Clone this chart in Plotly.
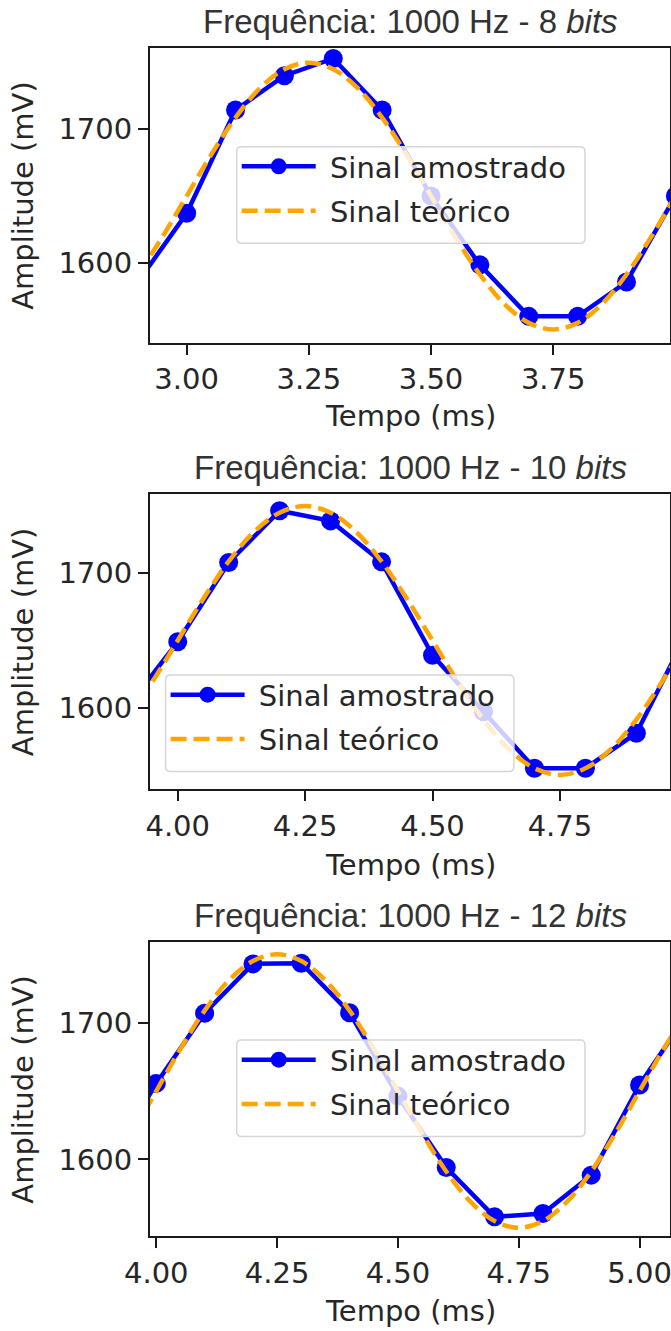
import plotly.graph_objects as go

W, H = 671, 1331

# ---------------- data ----------------
t_sample_8 = [2.9, 3.0, 3.1, 3.2, 3.3, 3.4, 3.5, 3.6, 3.7, 3.8, 3.9, 4.0]
v_sample_8 = [1585.5, 1637.1, 1714.5, 1740.2, 1753.1, 1714.5, 1650.0, 1598.4, 1559.8, 1559.8, 1585.5, 1650.0]

t_theory_8 = [2.90, 2.95, 3.00, 3.05, 3.10, 3.15, 3.20, 3.25, 3.30, 3.35, 3.40, 3.45,
              3.50, 3.55, 3.60, 3.65, 3.70, 3.75, 3.80, 3.85, 3.90, 3.95, 4.00]
v_theory_8 = [1591.2, 1619.1, 1650.0, 1680.9, 1708.8, 1730.9, 1745.1, 1750.0, 1745.1, 1730.9, 1708.8, 1680.9,
              1650.0, 1619.1, 1591.2, 1569.1, 1554.9, 1550.0, 1554.9, 1569.1, 1591.2, 1619.1, 1650.0]

t_sample_10 = [3.9, 4.0, 4.1, 4.2, 4.3, 4.4, 4.5, 4.6, 4.7, 4.8, 4.9, 5.0]
v_sample_10 = [1600.0, 1649.0, 1708.0, 1746.5, 1739.0, 1708.5, 1639.0, 1597.0, 1555.0, 1555.0, 1581.0, 1656.0]

t_sample_12 = [3.9, 4.0, 4.1, 4.2, 4.3, 4.4, 4.5, 4.6, 4.7, 4.8, 4.9, 5.0, 5.1]
v_sample_12 = [1597.0, 1655.6, 1706.9, 1743.0, 1743.5, 1707.3, 1646.3, 1594.1, 1558.0, 1560.5, 1588.5, 1654.4, 1707.0]

t_theory_b = [3.90, 3.95, 4.00, 4.05, 4.10, 4.15, 4.20, 4.25, 4.30, 4.35, 4.40, 4.45, 4.50,
              4.55, 4.60, 4.65, 4.70, 4.75, 4.80, 4.85, 4.90, 4.95, 5.00, 5.05, 5.10]
v_theory_b = [1591.2, 1619.1, 1650.0, 1680.9, 1708.8, 1730.9, 1745.1, 1750.0, 1745.1, 1730.9, 1708.8, 1680.9, 1650.0,
              1619.1, 1591.2, 1569.1, 1554.9, 1550.0, 1554.9, 1569.1, 1591.2, 1619.1, 1650.0, 1680.9, 1708.8]

titles = ["Frequência: 1000 Hz - 8 <i>bits</i>",
          "Frequência: 1000 Hz - 10 <i>bits</i>",
          "Frequência: 1000 Hz - 12 <i>bits</i>"]
x_ticks = [[3.00, 3.25, 3.50, 3.75],
           [4.00, 4.25, 4.50, 4.75],
           [4.00, 4.25, 4.50, 4.75, 5.00]]
y_ticks = [1600, 1700]
name_s = "Sinal amostrado"
name_t = "Sinal teórico"
xlabel = "Tempo (ms)"
ylabel = "Amplitude (mV)"

# ---------------- layout geometry (pixels) ----------------
ax_left, ax_right = 150, 670
LEG_W, LEG_H = 348.3, 96.6
panels = [
    dict(top=47.7, bottom=342.5, xr=[2.925, 3.989], yr=[1540.2, 1761.2],
         leg=(236.7, 146.7), title_y=21.5, xlab_y=416),
    dict(top=494.0, bottom=789.0, xr=[3.9456, 4.966], yr=[1539.5, 1759.0],
         leg=(165.6, 675.0), title_y=467.8, xlab_y=865),
    dict(top=942.0, bottom=1236.0, xr=[3.987, 5.063], yr=[1544.0, 1759.0],
         leg=(236.7, 1040.0), title_y=915.8, xlab_y=1311),
]
series = [
    (t_sample_8, v_sample_8, t_theory_8, v_theory_8),
    (t_sample_10, v_sample_10, t_theory_b, v_theory_b),
    (t_sample_12, v_sample_12, t_theory_b, v_theory_b),
]

BLUE = "#0000ff"
ORANGE = "#ffa500"
TXT = "#262626"
TICKFONT = dict(family="DejaVu Sans", size=29, color=TXT)
NB = "\u00a0"

fig = go.Figure()
layout = dict(width=W, height=H, autosize=False,
              margin=dict(l=0, r=0, t=0, b=0, pad=0, autoexpand=False),
              paper_bgcolor="white", plot_bgcolor="white",
              annotations=[], shapes=[])

def px(x):
    return x / W

def py(y):
    return 1 - y / H

def rounded_box(x0, y0, w, h, r=5):
    # pixel rectangle -> paper-coordinate SVG path with rounded corners
    x1, y1 = x0 + w, y0 + h
    P = lambda x, y: f"{px(x):.6f},{py(y):.6f}"
    return ("M" + P(x0 + r, y0) + " L" + P(x1 - r, y0) + " Q" + P(x1, y0) + " " + P(x1, y0 + r) +
            " L" + P(x1, y1 - r) + " Q" + P(x1, y1) + " " + P(x1 - r, y1) +
            " L" + P(x0 + r, y1) + " Q" + P(x0, y1) + " " + P(x0, y1 - r) +
            " L" + P(x0, y0 + r) + " Q" + P(x0, y0) + " " + P(x0 + r, y0) + " Z")

for i, (p, (ts, vs, tt, vt)) in enumerate(zip(panels, series)):
    sfx = "" if i == 0 else str(i + 1)
    leg = "legend" if i == 0 else f"legend{i + 1}"
    fig.add_trace(go.Scatter(x=ts, y=vs, mode="lines+markers", name=NB + name_s,
                             xaxis="x" + sfx, yaxis="y" + sfx, legend=leg, legendgroup=f"s{i}",
                             line=dict(color=BLUE, width=4.5),
                             marker=dict(color=BLUE, size=19, line=dict(width=0)),
                             cliponaxis=True))
    fig.add_trace(go.Scatter(x=tt, y=vt, mode="lines", name=NB + name_t,
                             xaxis="x" + sfx, yaxis="y" + sfx, legend=leg, legendgroup=f"t{i}",
                             line=dict(color=ORANGE, width=4.5, dash="16px,7px", shape="spline"),
                             cliponaxis=True))
    layout["xaxis" + sfx] = dict(
        domain=[px(ax_left), px(ax_right)], anchor="y" + sfx, range=p["xr"],
        tickmode="array", tickvals=x_ticks[i], ticktext=[f"{v:.2f}" for v in x_ticks[i]],
        ticks="outside", ticklen=10, tickwidth=2, tickcolor="#1a1a1a",
        showline=True, linecolor="#1a1a1a", linewidth=2, mirror=True,
        showgrid=False, zeroline=False, tickfont=TICKFONT, fixedrange=True,
        automargin=False, ticklabeloverflow="allow")
    layout["yaxis" + sfx] = dict(
        domain=[py(p["bottom"]), py(p["top"])], anchor="x" + sfx, range=p["yr"],
        tickmode="array", tickvals=y_ticks, ticktext=[str(v) for v in y_ticks],
        ticks="outside", ticklen=10, tickwidth=2, tickcolor="#1a1a1a",
        showline=True, linecolor="#1a1a1a", linewidth=2, mirror=True,
        showgrid=False, zeroline=False, tickfont=TICKFONT, fixedrange=True,
        automargin=False, ticklabeloverflow="allow")
    lx, ly = p["leg"]
    layout["shapes"].append(dict(type="path", xref="paper", yref="paper", layer="above",
                                 path=rounded_box(lx, ly, LEG_W, LEG_H),
                                 fillcolor="rgba(255,255,255,0.8)",
                                 line=dict(color="#d6d6d6", width=1.5)))
    layout[leg] = dict(x=px(lx), y=py(ly - 5.7), xanchor="left", yanchor="top",
                       xref="paper", yref="paper",
                       bgcolor="rgba(0,0,0,0)", borderwidth=0,
                       font=dict(family="DejaVu Sans", size=29, color=TXT),
                       itemwidth=74, tracegroupgap=3.7)
    mid_x = px((ax_left + ax_right) / 2)
    layout["annotations"] += [
        dict(text=titles[i], x=mid_x, y=py(p["title_y"]), xref="paper", yref="paper",
             xanchor="center", yanchor="middle", showarrow=False,
             font=dict(family="Liberation Sans", size=33, color="#333333")),
        dict(text=xlabel, x=mid_x, y=py(p["xlab_y"]), xref="paper", yref="paper",
             xanchor="center", yanchor="middle", showarrow=False,
             font=dict(family="DejaVu Sans", size=29, color=TXT)),
        dict(text=ylabel, x=px(22.7), y=py((p["top"] + p["bottom"]) / 2), xref="paper", yref="paper",
             xanchor="center", yanchor="middle", showarrow=False, textangle=-90,
             font=dict(family="DejaVu Sans", size=29, color=TXT)),
    ]

fig.update_layout(**layout)
fig.write_html("out.html", config={"displayModeBar": False})
